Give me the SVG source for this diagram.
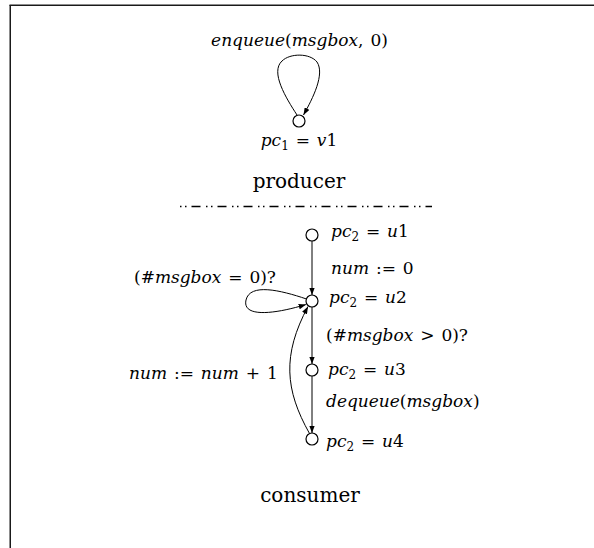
<svg xmlns="http://www.w3.org/2000/svg" width="594" height="548" viewBox="0 0 594 548">
<defs>
<marker id="arr" viewBox="0 0 8 6" refX="8" refY="3" markerWidth="7.5" markerHeight="5.5" markerUnits="userSpaceOnUse" orient="auto">
<path d="M0,0 L8,3 L0,6 z" fill="#000"/>
</marker>
</defs>
<style>
.frame{stroke:#1a1a1a;stroke-width:1.5;fill:none}
.st{fill:#fff;stroke:#000;stroke-width:1.2}
.e{fill:none;stroke:#000;stroke-width:1;marker-end:url(#arr)}
.m{font-family:"DejaVu Serif",serif;font-size:17px;fill:#000;word-spacing:1.5px}
.i{font-style:italic}
.sub{font-size:12px}
.t{font-family:"DejaVu Serif",serif;font-size:20px;fill:#000;text-anchor:middle}
.sep{stroke:#000;stroke-width:1.6;stroke-dasharray:1.5 3.5 1.5 5 9 5.5;fill:none}
</style>
<rect width="594" height="548" fill="#fff"/>
<g id="frame">
<line class="frame" x1="9.5" y1="5.25" x2="594" y2="5.25"/>
<line class="frame" x1="10.25" y1="5" x2="10.25" y2="548"/>
</g>

<g id="producer">
<text class="t" x="299" y="188">producer</text>
</g>
<g id="separator">
<line class="sep" x1="180" y1="206.5" x2="432" y2="206.5"/>
</g>
<g id="consumer">
<text class="t" x="310" y="502">consumer</text>
</g>

<g id="connectors">
<path id="e_v1_v1" class="e" d="M297,115 C286,98 270,72 282,61 C290,53 310,53 317,62 C325,74 313,98 303.5,115"/>
<path id="e_u1_u2" class="e" d="M312,241 L312,295"/>
<path id="e_u2_u2" class="e" d="M306.5,299 C280,290 250,283 246,300 C242,318 275,314 306,304.5"/>
<path id="e_u2_u3" class="e" d="M312,307 L312,364"/>
<path id="e_u3_u4" class="e" d="M312,376 L312,433"/>
<path id="e_u4_u2" class="e" d="M309.5,433.5 C285,390 282,355 308,306.5"/>
</g>

<g id="edge_labels">
<text class="m" x="299.5" y="46" text-anchor="middle"><tspan class="i">enqueue</tspan>(<tspan class="i">msgbox</tspan>, 0)</text>
<text class="m" x="331" y="274"><tspan class="i">num</tspan> := 0</text>
<text class="m" x="134" y="283">(#<tspan class="i">msgbox</tspan> = 0)?</text>
<text class="m" x="326" y="341">(#<tspan class="i">msgbox</tspan> &gt; 0)?</text>
<text class="m" x="129" y="379"><tspan class="i">num</tspan> := <tspan class="i">num</tspan> + 1</text>
<text class="m" x="326" y="407"><tspan class="i">dequeue</tspan>(<tspan class="i">msgbox</tspan>)</text>
</g>

<g id="v1">
<circle class="st" cx="299" cy="121" r="6"/>
<text class="m" x="299" y="146" text-anchor="middle"><tspan class="i">pc</tspan><tspan class="sub" dy="3.5">1</tspan><tspan dy="-3.5"> = </tspan><tspan class="i">v</tspan>1</text>
</g>
<g id="u1">
<circle class="st" cx="312" cy="235" r="6"/>
<text class="m" x="331" y="237"><tspan class="i">pc</tspan><tspan class="sub" dy="3.5">2</tspan><tspan dy="-3.5"> = </tspan><tspan class="i">u</tspan>1</text>
</g>
<g id="u2">
<circle class="st" cx="312" cy="301" r="6"/>
<text class="m" x="329" y="303"><tspan class="i">pc</tspan><tspan class="sub" dy="3.5">2</tspan><tspan dy="-3.5"> = </tspan><tspan class="i">u</tspan>2</text>
</g>
<g id="u3">
<circle class="st" cx="312" cy="370" r="6"/>
<text class="m" x="328" y="375"><tspan class="i">pc</tspan><tspan class="sub" dy="3.5">2</tspan><tspan dy="-3.5"> = </tspan><tspan class="i">u</tspan>3</text>
</g>
<g id="u4">
<circle class="st" cx="312" cy="439" r="6"/>
<text class="m" x="326" y="447"><tspan class="i">pc</tspan><tspan class="sub" dy="3.5">2</tspan><tspan dy="-3.5"> = </tspan><tspan class="i">u</tspan>4</text>
</g>
</svg>
